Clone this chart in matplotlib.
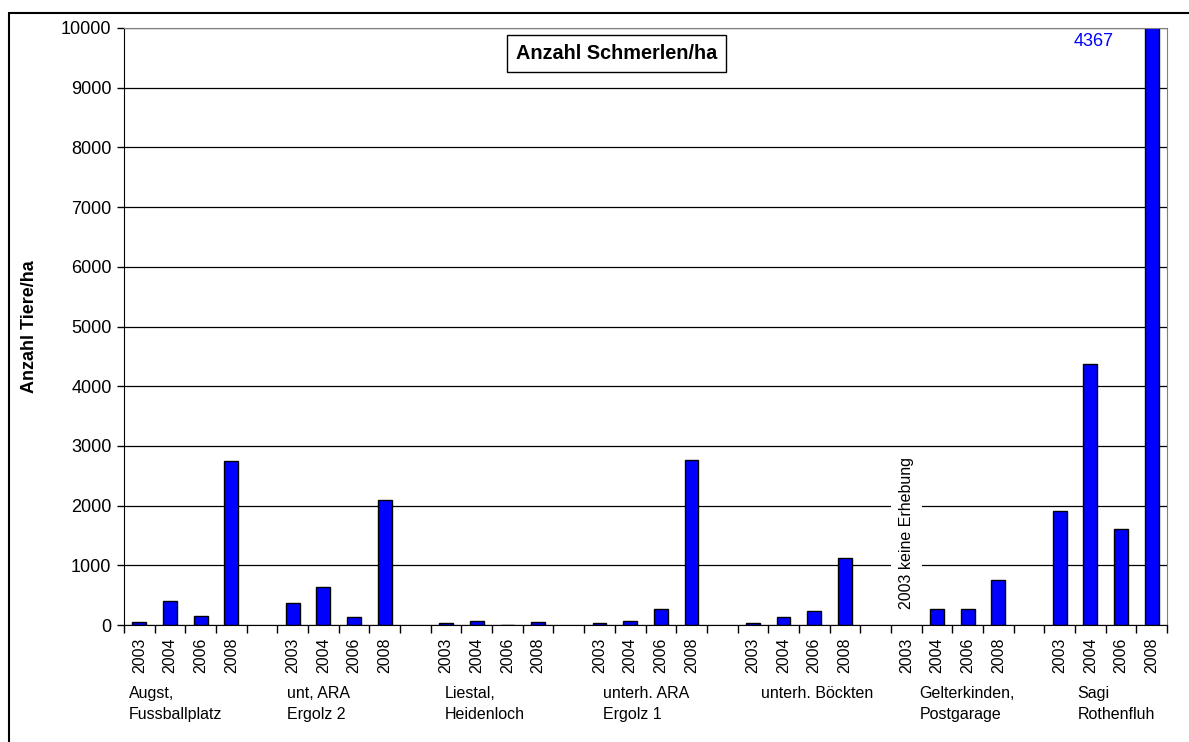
"""Anzahl Schmerlen/ha - bar chart per site and survey year."""

import numpy as np
import matplotlib
matplotlib.use("Agg")
import matplotlib.pyplot as plt
from matplotlib.patches import Rectangle

plt.rcParams["font.family"] = ["Liberation Sans", "DejaVu Sans"]

sites = [
    "Augst,\nFussballplatz",
    "unt, ARA\nErgolz 2",
    "Liestal,\nHeidenloch",
    "unterh. ARA\nErgolz 1",
    "unterh. Böckten",
    "Gelterkinden,\nPostgarage",
    "Sagi\nRothenfluh",
]
years = ["2003", "2004", "2006", "2008"]

augst = [50, 400, 150, 2740]
ara_ergolz2 = [370, 630, 130, 2100]
liestal = [30, 75, 0, 50]
ara_ergolz1 = [30, 75, 260, 2760]
boeckten = [30, 130, 230, 1120]
gelterkinden = [np.nan, 260, 260, 750]   # 2003 keine Erhebung
sagi = [1910, 4367, 1600, 43670]         # 2008 off the scale

site_values = [augst, ara_ergolz2, liestal, ara_ergolz1, boeckten, gelterkinden, sagi]

y_ticks = list(range(0, 10001, 1000))

# layout: 4 bars per site, one empty slot between sites
n_years = len(years)
group_step = n_years + 1
n_slots = len(sites) * group_step - 1

positions, heights, labels = [], [], []
for g, vals in enumerate(site_values):
    for k, v in enumerate(vals):
        positions.append(g * group_step + k)
        heights.append(v)
        labels.append(years[k])

bar_x = [p for p, h in zip(positions, heights) if not np.isnan(h)]
bar_h = [h for h in heights if not np.isnan(h)]

fig = plt.figure(figsize=(11.89, 7.42), dpi=100)
ax = fig.add_axes([124 / 1189, 1 - 625 / 742, (1167 - 124) / 1189, (625 - 28) / 742])

ax.set_axisbelow(True)
ax.yaxis.grid(True, color="black", linewidth=0.9)
ax.bar(bar_x, bar_h, width=0.45, color="#0000FF", edgecolor="black", linewidth=1.0)

ax.set_xlim(-0.5, n_slots - 0.5)
ax.set_ylim(0, 10000)
ax.set_yticks(y_ticks)
ax.tick_params(axis="y", labelsize=13, length=5, width=1, direction="out", pad=4)

# category boundaries as major ticks, year labels as minor ticks
ax.set_xticks(np.arange(-0.5, n_slots, 1.0))
ax.set_xticklabels([])
ax.tick_params(axis="x", which="major", length=6, width=1, direction="out")
ax.set_xticks(positions, minor=True)
ax.set_xticklabels(labels, minor=True, rotation=90, fontsize=11.5)
ax.tick_params(axis="x", which="minor", length=0, pad=9)

for side in ("top", "right"):
    ax.spines[side].set_color("#808080")
ax.spines["left"].set_color("black")
ax.spines["bottom"].set_color("black")

ax.set_ylabel("Anzahl Tiere/ha", fontsize=13, fontweight="bold")
ax.yaxis.set_label_coords(-0.0825, 0.5)

# site names under the year labels
xtr = ax.get_xaxis_transform()
for g, name in enumerate(sites):
    ax.text(g * group_step - 0.34 + 0.155 * g, -0.103, name, transform=xtr,
            ha="left", va="top", fontsize=11.5, linespacing=1.45)

ax.text(0.472, 0.957, "Anzahl Schmerlen/ha", transform=ax.transAxes,
        ha="center", va="center", fontsize=14.3, fontweight="bold",
        bbox=dict(boxstyle="square,pad=0.45", facecolor="white", edgecolor="black", linewidth=1))

ax.text(0.93, 0.977, "4367", transform=ax.transAxes, ha="center", va="center",
        fontsize=13, color="#0000FF")

missing = 5 * group_step
ax.text(missing, 270, "2003 keine Erhebung", rotation=90, ha="center", va="bottom",
        fontsize=11.5, bbox=dict(boxstyle="square,pad=0.5", facecolor="white", edgecolor="none"))

# outer chart border
fig.patches.append(Rectangle((9 / 1189, -0.1), 1.2, 1.1 - 13 / 742, transform=fig.transFigure,
                             fill=False, edgecolor="black", linewidth=1.5))

fig.savefig("out.png", dpi=100)
